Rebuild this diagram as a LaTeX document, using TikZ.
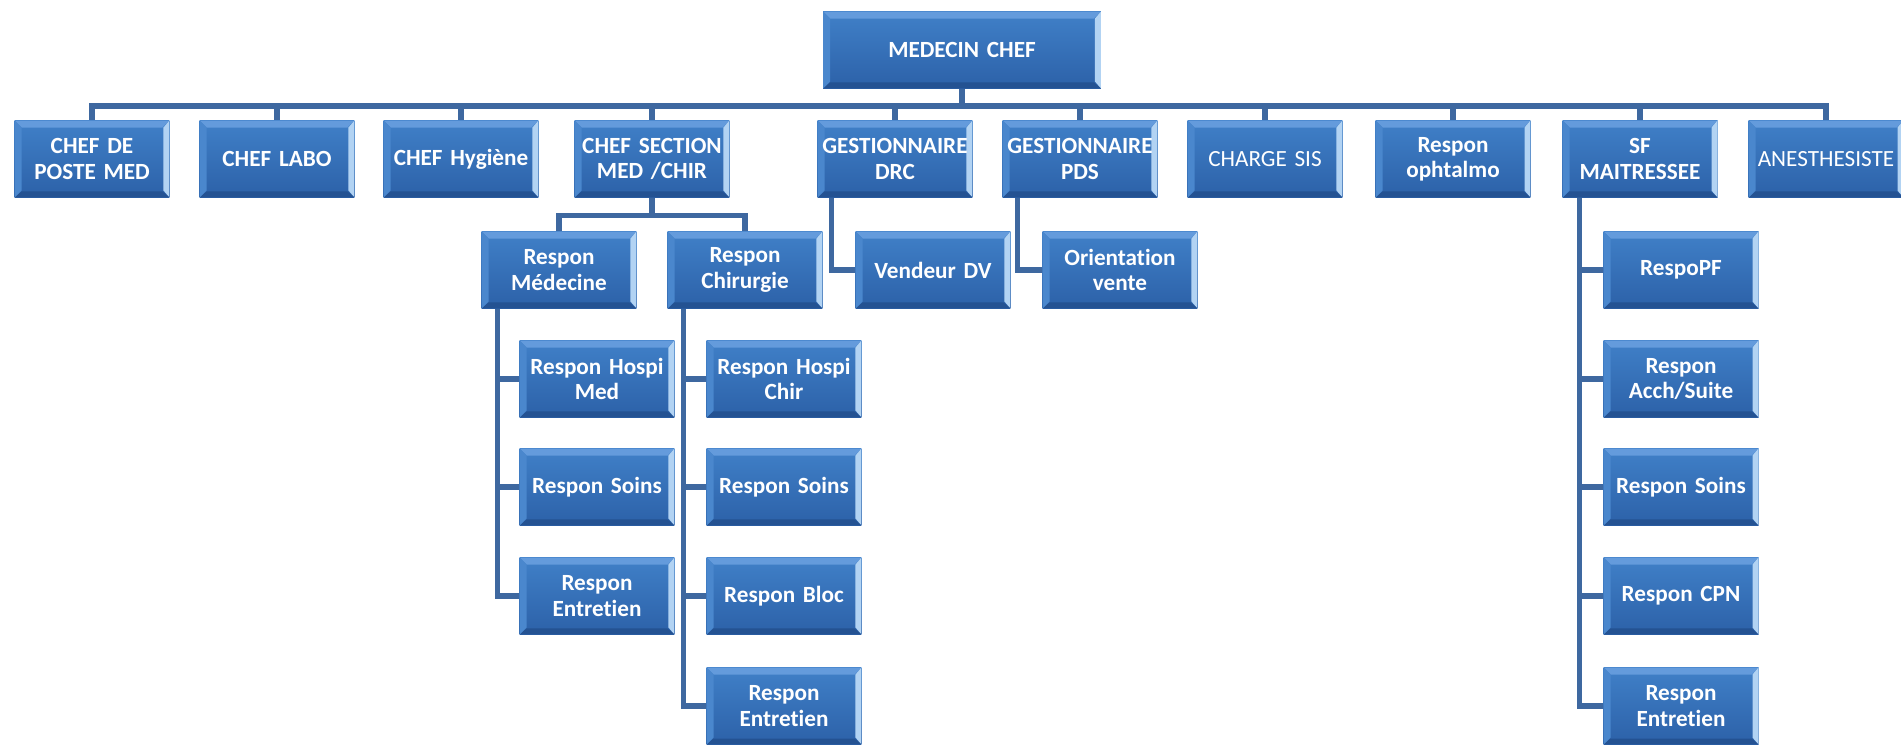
\documentclass[tikz,border=0pt]{standalone}
\usepackage{fontspec}
\setmainfont{Carlito}[Ligatures=NoCommon, WordSpace=0.75]

\definecolor{boxtop}{RGB}{64,128,200}
\definecolor{boxbot}{RGB}{44,97,168}
\definecolor{beveltop}{RGB}{100,155,220}
\definecolor{bevelright}{RGB}{178,211,243}
\definecolor{bevelleft}{RGB}{74,135,205}
\definecolor{bevelbot}{RGB}{36,82,146}
\definecolor{linkblue}{RGB}{62,104,160}

\newcommand{\orgbevel}{%
\coordinate (nw) at (path picture bounding box.north west);
\coordinate (ne) at (path picture bounding box.north east);
\coordinate (sw) at (path picture bounding box.south west);
\coordinate (se) at (path picture bounding box.south east);
\fill[beveltop] (nw) -- (ne) -- ([shift={(-0.14cm,-0.14cm)}]ne) -- ([shift={(0.14cm,-0.14cm)}]nw) -- cycle;
\fill[bevelright] (ne) -- (se) -- ([shift={(-0.12cm,0.14cm)}]se) -- ([shift={(-0.12cm,-0.14cm)}]ne) -- cycle;
\fill[bevelbot] (se) -- (sw) -- ([shift={(0.14cm,0.12cm)}]sw) -- ([shift={(-0.14cm,0.12cm)}]se) -- cycle;
\fill[bevelleft] (sw) -- (nw) -- ([shift={(0.14cm,-0.14cm)}]nw) -- ([shift={(0.14cm,0.14cm)}]sw) -- cycle;
}

\tikzset{
  orgbox/.style={rectangle, minimum width=3.1cm, minimum height=1.54cm, text width=3.04cm,
    inner xsep=0.03cm, inner ysep=0.1cm, align=center, text=white,
    font=\bfseries\fontsize{13.2}{14.4}\selectfont,
    top color=boxtop, bottom color=boxbot, path picture={\orgbevel}},
  plainbox/.style={orgbox, font=\fontsize{13.2}{14.4}\selectfont},
  link/.style={draw=linkblue, line width=2.9pt}
}

\begin{document}
\begin{tikzpicture}[x=0.02cm, y=-0.02cm]

\useasboundingbox (0,0) rectangle (1901,747);

\node(chef)[orgbox, minimum width=5.56cm, text width=5.4cm] at (962,50) {MEDECIN CHEF};

\node(poste)[orgbox] at (92,159) {CHEF DE\\POSTE MED};
\node(labo)[orgbox] at (277,159) {CHEF LABO};
\node(hygiene)[orgbox] at (461,159) {CHEF Hygiène};
\node(section)[orgbox] at (652,159) {CHEF SECTION\\MED /CHIR};
\node(drc)[orgbox] at (895,159) {GESTIONNAIRE\\DRC};
\node(pds)[orgbox] at (1080,159) {GESTIONNAIRE\\PDS};
\node(sis)[plainbox] at (1265,159) {CHARGE SIS};
\node(ophtalmo)[orgbox] at (1453,159) {Respon\\ophtalmo};
\node(sf)[orgbox] at (1640,159) {SF\\MAITRESSEE};
\node(anesth)[plainbox] at (1826,159) {ANESTHESISTE};

\node(rmed)[orgbox] at (559,270) {Respon\\Médecine};
\node(rchir)[orgbox] at (745,270) {Respon\\Chirurgie};
\node(vendeur)[orgbox] at (933,270) {Vendeur DV};
\node(orient)[orgbox] at (1120,270) {Orientation\\vente};
\node(respopf)[orgbox] at (1681,270) {RespoPF};

\node(hospimed)[orgbox] at (597,379) {Respon Hospi\\Med};
\node(soinsmed)[orgbox] at (597,487) {Respon Soins};
\node(entmed)[orgbox] at (597,596) {Respon\\Entretien};

\node(hospichir)[orgbox] at (784,379) {Respon Hospi\\Chir};
\node(soinschir)[orgbox] at (784,487) {Respon Soins};
\node(bloc)[orgbox] at (784,596) {Respon Bloc};
\node(entchir)[orgbox] at (784,706) {Respon\\Entretien};

\node(accueil)[orgbox] at (1681,379) {Respon\\Acch/Suite};
\node(soinssf)[orgbox] at (1681,487) {Respon Soins};
\node(cpn)[orgbox] at (1681,596) {Respon CPN};
\node(entsf)[orgbox] at (1681,706) {Respon\\Entretien};

\coordinate(bus) at (0,106);

\foreach \b in {poste,labo,hygiene,section,drc,pds,sis,ophtalmo,sf,anesth}
  \draw[link] (chef.south) -- (chef.south |- bus) -| (\b.north);

\draw[link] (section.south) -- ++(0,18) -| (rmed.north);
\draw[link] (section.south) -- ++(0,18) -| (rchir.north);

\draw[link] ([xshift=0.28cm]drc.south west) |- (vendeur.west);
\draw[link] ([xshift=0.3cm]pds.south west) |- (orient.west);

\foreach \c in {hospimed,soinsmed,entmed}
  \draw[link] ([xshift=0.32cm]rmed.south west) |- (\c.west);
\foreach \c in {hospichir,soinschir,bloc,entchir}
  \draw[link] ([xshift=0.32cm]rchir.south west) |- (\c.west);
\foreach \c in {respopf,accueil,soinssf,cpn,entsf}
  \draw[link] ([xshift=0.34cm]sf.south west) |- (\c.west);

\end{tikzpicture}
\end{document}
